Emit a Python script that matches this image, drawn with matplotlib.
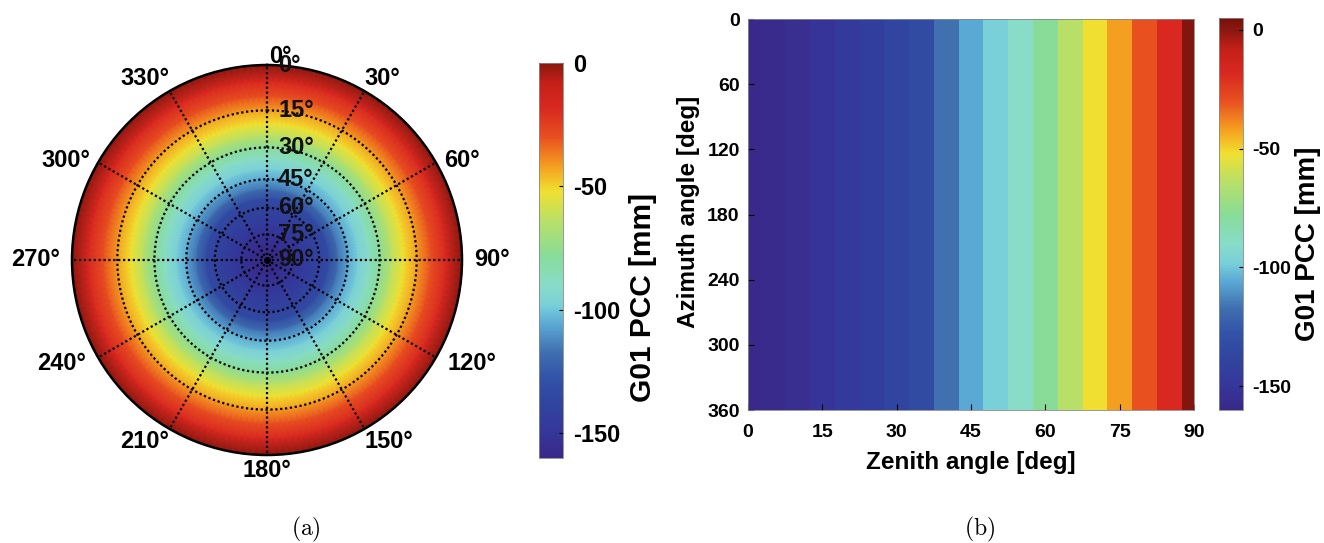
import numpy as np
import matplotlib
matplotlib.use('Agg')
import matplotlib.pyplot as plt
from matplotlib.colors import LinearSegmentedColormap, Normalize
from matplotlib.cm import ScalarMappable

plt.rcParams['font.family'] = ['Liberation Sans', 'DejaVu Sans']
plt.rcParams['font.weight'] = 'bold'
plt.rcParams['mathtext.fontset'] = 'cm'
plt.rcParams['axes.unicode_minus'] = False

# ---------------- data ----------------
zenith = [0, 5, 10, 15, 20, 25, 30, 35, 40, 45, 50, 55, 60, 65, 70, 75, 80, 85, 90]
pcc = [-159, -158, -155, -151, -147, -143, -139, -133, -117, -106, -98, -90,
       -78, -64, -52, -42, -30, -18, 2]
azimuth_rows = [0, 360]
az_ticks = [0, 30, 60, 90, 120, 150, 180, 210, 240, 270, 300, 330]
az_labels = ['0°', '30°', '60°', '90°', '120°', '150°', '180°', '210°', '240°', '270°', '300°', '330°']
ring_zenith = [0, 15, 30, 45, 60, 75, 90]
ring_labels = ['90°', '75°', '60°', '45°', '30°', '15°', '0°']
zen_ticks = [0, 15, 30, 45, 60, 75, 90]
azi_ticks = [0, 60, 120, 180, 240, 300, 360]
cbar_ticks = [-150, -100, -50, 0]
cbar_label = 'G01 PCC [mm]'

# ---------------- colormap (style) ----------------
anchors = [(-160, '#3a2888'), (-150, '#35369a'), (-137, '#3046a0'), (-128, '#3252a8'),
           (-117, '#4070b0'), (-106, '#5aa8d4'), (-98, '#7ad0d8'), (-90, '#88dcc8'),
           (-78, '#88dc98'), (-64, '#b8e068'), (-52, '#f0e030'), (-42, '#f5a020'),
           (-30, '#e85020'), (-18, '#d82820'), (-8, '#c42018'), (0, '#8a1810'),
           (5, '#781008')]


def make_cmap(vmin, vmax):
    pts = [(v, c) for v, c in anchors if vmin <= v <= vmax]
    return LinearSegmentedColormap.from_list(
        'pcc', [((v - vmin) / (vmax - vmin), c) for v, c in pts], N=512)


vmin = -160
cmap_a, norm_a = make_cmap(vmin, 0), Normalize(vmin, 0)
cmap_b, norm_b = make_cmap(vmin, 5), Normalize(vmin, 5)

fig = plt.figure(figsize=(13.24, 5.43), dpi=100)
W, H = 1324, 543
PT = 0.72  # points per pixel at 100 dpi


def rect(x0, y0, x1, y1):
    return [x0 / W, (H - y1) / H, (x1 - x0) / W, (y1 - y0) / H]


FS = 17       # left panel text
FS_B = 14     # right panel tick labels
FS_BL = 17.5  # right panel axis labels

# ---------------- (a) polar ----------------
axp = fig.add_axes(rect(72, 65, 462, 455), projection='polar')
axp.set_theta_zero_location('N')
axp.set_theta_direction(-1)
theta = np.radians(np.arange(0, 361, 2))
rad = np.tan(np.radians(zenith) / 2)
T, R = np.meshgrid(theta, rad)
C = np.tile(np.array(pcc, dtype=float)[:, None], (1, len(theta)))
axp.pcolormesh(T, R, C, shading='gouraud', cmap=cmap_a, norm=norm_a)
axp.set_ylim(0, 1)
axp.grid(False)
for z in ring_zenith[1:-1]:
    axp.plot(theta, np.full_like(theta, np.tan(np.radians(z) / 2)), color='k',
             ls=(0, (1, 1.2)), lw=1.6)
for a in az_ticks:
    axp.plot([np.radians(a)] * 2, [0, 1], color='k', ls=(0, (1, 1.2)), lw=1.6)
axp.plot([0], [0], 'o', color='k', ms=4)
axp.set_xticks([])
axp.set_yticks([])
axp.spines['polar'].set_linewidth(1.8)

# azimuth labels placed around the rim
for a, lab in zip(az_ticks, az_labels):
    s, c = np.sin(np.radians(a)), np.cos(np.radians(a))
    if a == 0:
        ha, va, off = 'center', 'bottom', (13, -3)
    elif a == 180:
        ha, va, off = 'center', 'top', (0, -4)
    elif a in (90, 270):
        ha, va = ('left' if s > 0 else 'right'), 'center'
        off = (12 * np.sign(s), 0)
    elif a in (60, 300):
        ha, va = ('left' if s > 0 else 'right'), 'center'
        off = (8 * np.sign(s), 2)
    elif a in (120, 240):
        ha, va = ('left' if s > 0 else 'right'), 'center'
        off = (12 * np.sign(s), -6)
    else:
        ha, va = ('left' if s > 0 else 'right'), ('bottom' if c > 0 else 'top')
        off = (0, 1 * np.sign(c))
    axp.annotate(lab, xy=(np.radians(a), 1), xytext=(off[0] * PT, off[1] * PT),
                 textcoords='offset points', ha=ha, va=va, fontsize=FS,
                 fontweight='bold', annotation_clip=False)

for z, lab in zip(ring_zenith, ring_labels):
    axp.annotate(lab, xy=(0, np.tan(np.radians(z) / 2)), xytext=(11 * PT, 0),
                 textcoords='offset points', ha='left', va='center',
                 fontsize=FS, fontweight='bold', color='#111111', zorder=10,
                 annotation_clip=False)

cax_a = fig.add_axes(rect(539, 63, 563, 458))
cb_a = fig.colorbar(ScalarMappable(norm=norm_a, cmap=cmap_a), cax=cax_a, ticks=cbar_ticks)
cb_a.ax.tick_params(labelsize=FS, direction='in', length=3, width=0.8, pad=7)
cb_a.outline.set_linewidth(0.6)
cb_a.outline.set_edgecolor('#888888')
fig.text(643 / W, 1 - 297 / H, cbar_label, rotation=90, ha='center', va='center',
         fontsize=21.5, fontweight='bold')

# ---------------- (b) heatmap ----------------
axh = fig.add_axes(rect(748, 19, 1194, 410))
Z = np.tile(np.array(pcc, dtype=float), (len(azimuth_rows), 1))
axh.pcolormesh(zenith, azimuth_rows, Z, shading='nearest', cmap=cmap_b, norm=norm_b)
axh.set_xlim(0, 90)
axh.set_ylim(360, 0)
axh.set_xticks(zen_ticks)
axh.set_yticks(azi_ticks)
axh.tick_params(labelsize=FS_B, direction='in', length=4, width=0.8)
axh.tick_params(axis='x', pad=10)
axh.tick_params(axis='y', pad=6)
for sp in axh.spines.values():
    sp.set_linewidth(0.6)
    sp.set_edgecolor('#888888')
fig.text(971 / W, 1 - 463 / H, 'Zenith angle [deg]', ha='center', va='center',
         fontsize=FS_BL, fontweight='bold')
fig.text(688 / W, 1 - 212 / H, 'Azimuth angle [deg]', rotation=90, ha='center',
         va='center', fontsize=FS_BL, fontweight='bold')

cax_b = fig.add_axes(rect(1219, 18, 1243, 410))
cb_b = fig.colorbar(ScalarMappable(norm=norm_b, cmap=cmap_b), cax=cax_b, ticks=cbar_ticks)
cb_b.ax.tick_params(labelsize=FS_B, direction='in', length=3, width=0.8, pad=6.5)
cb_b.outline.set_linewidth(0.6)
cb_b.outline.set_edgecolor('#888888')
fig.text(1308 / W, 1 - 244 / H, cbar_label, rotation=90, ha='center', va='center',
         fontsize=20, fontweight='bold')

# captions
fig.text(306 / W, 1 - 529 / H, r'$\mathrm{(a)}$', ha='center', va='center', fontsize=17)
fig.text(980 / W, 1 - 529 / H, r'$\mathrm{(b)}$', ha='center', va='center', fontsize=17)

fig.savefig('out.png', dpi=100)
